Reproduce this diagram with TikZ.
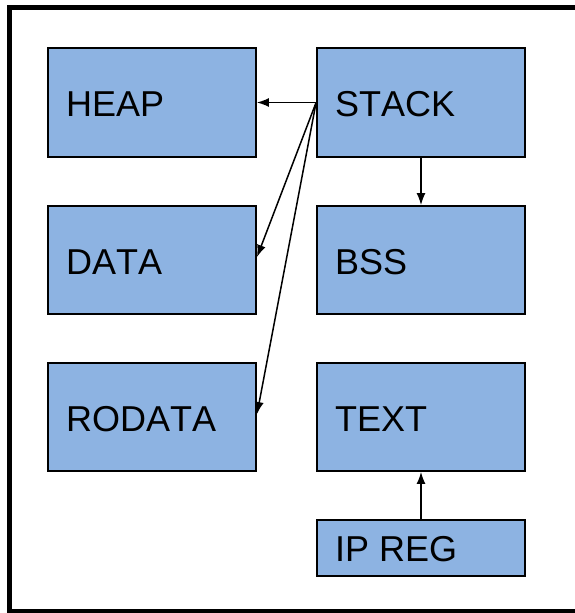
\documentclass[tikz,border=0pt]{standalone}
\usepackage{fontspec}
\setmainfont[Kerning=Off]{Liberation Sans}
\usetikzlibrary{arrows.meta}
\definecolor{boxblue}{HTML}{8DB3E2}
\begin{document}
\begin{tikzpicture}[x=1pt,y=-1pt,
  seg/.style={draw=black,line width=1.8pt,fill=boxblue},
  lbl/.style={anchor=base west,inner sep=0pt,font=\fontsize{36}{36}\selectfont},
  arr/.style={line width=1.5pt,-{Latex[length=12pt,width=9pt]}}]
\useasboundingbox (0,0) rectangle (575,613);
\draw[line width=5pt] (9.5,7.5) rectangle (585,611.5);
\node[seg,minimum width=208pt,minimum height=109pt,inner sep=0pt] (heap) at (152,102.5) {};
\node[seg,minimum width=208pt,minimum height=109pt,inner sep=0pt] (stack) at (421,102.5) {};
\node[seg,minimum width=208pt,minimum height=108pt,inner sep=0pt] (data) at (152,260) {};
\node[seg,minimum width=208pt,minimum height=108pt,inner sep=0pt] (bss) at (421,260) {};
\node[seg,minimum width=208pt,minimum height=108pt,inner sep=0pt] (rodata) at (152,417) {};
\node[seg,minimum width=208pt,minimum height=108pt,inner sep=0pt] (text) at (421,417) {};
\node[seg,minimum width=208pt,minimum height=56pt,inner sep=0pt] (ipreg) at (421,548) {};
\node[lbl] (heapl) at (66,116) {HEAP};
\node[lbl] (stackl) at (335,116) {STACK};
\node[lbl] (datal) at (66,274) {DATA};
\node[lbl] (bssl) at (335,274) {BSS};
\node[lbl] (rodatal) at (66,431) {RODATA};
\node[lbl] (textl) at (335,431) {TEXT};
\node[lbl] (ipregl) at (335,561.5) {IP REG};
\coordinate (s0) at (stack.west);
\coordinate (dt) at (257,257);
\coordinate (rt) at (257,414);
\draw[arr] (s0) -- (heap.east);
\draw[arr] (s0) -- (dt);
\draw[arr] (s0) -- (rt);
\draw[arr] (stack.south) -- (bss.north);
\draw[arr] (ipreg.north) -- (text.south);
\end{tikzpicture}
\end{document}
